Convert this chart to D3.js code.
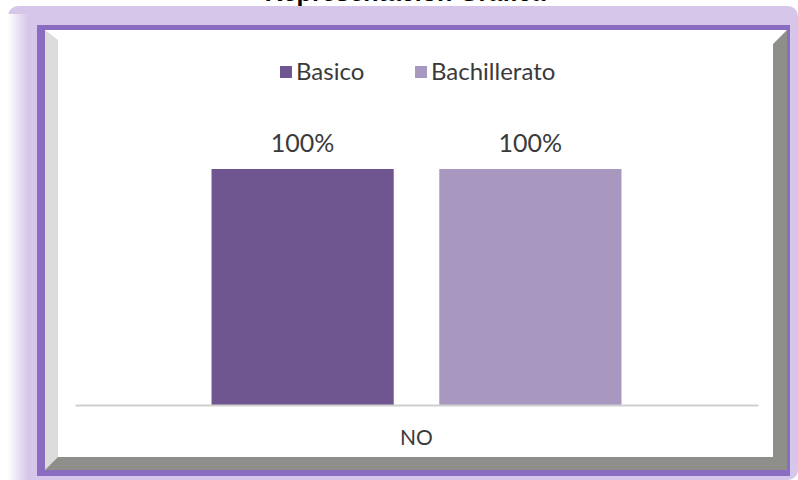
<!DOCTYPE html>
<html>
<head>
<meta charset="utf-8">
<script src="https://cdn.jsdelivr.net/npm/d3@7"></script>
<style>
  body { margin: 0; background: #fff; }
  svg { display: block; }
</style>
</head>
<body>
<div id="chart"></div>
<script>
// data
var categories = ["NO"];
var series = ["Basico", "Bachillerato"];
var basicoValues = [1.0];
var bachilleratoValues = [1.0];
var colors = ["#6f5690", "#a897bf"];
var title = "Representación Gráfica";

var width = 798, height = 480;

var svg = d3.select("#chart").append("svg")
  .attr("width", width)
  .attr("height", height);

var defs = svg.append("defs");
var fade = defs.append("linearGradient").attr("id", "fadeLeft")
  .attr("x1", "0").attr("x2", "1").attr("y1", "0").attr("y2", "0");
fade.append("stop").attr("offset", "0").attr("stop-color", "#ffffff");
fade.append("stop").attr("offset", "1").attr("stop-color", "#d6c6ea");

// outer lavender frame
svg.append("rect").attr("x", 8).attr("y", 6).attr("width", 790).attr("height", 474)
  .attr("rx", 10).attr("fill", "#d6c6ea");
svg.append("rect").attr("x", 8).attr("y", 14).attr("width", 20).attr("height", 466)
  .attr("fill", "url(#fadeLeft)");

// dark purple border
svg.append("rect").attr("x", 37).attr("y", 25).attr("width", 753).attr("height", 451)
  .attr("fill", "#8a6cc0");

// bevel: left light, right/bottom dark
svg.append("rect").attr("x", 45).attr("y", 30).attr("width", 742).attr("height", 440)
  .attr("fill", "#8e8e8a");
svg.append("path")
  .attr("d", "M45,30 L58,30 L58,457 L45,470 Z")
  .attr("fill", "#dcdcdc");
svg.append("path")
  .attr("d", "M45,30 L787,30 L773,44 L58,44 L58,40 Z")
  .attr("fill", "#ffffff");
svg.append("rect").attr("x", 58).attr("y", 30).attr("width", 715).attr("height", 427)
  .attr("fill", "#ffffff");

// title (cut off at the top, as in the picture)
svg.append("text")
  .attr("x", 405).attr("y", 1)
  .attr("text-anchor", "middle")
  .style("font-family", "'Liberation Sans', Arial, sans-serif")
  .style("font-weight", "bold")
  .style("font-size", "25px")
  .attr("fill", "#000")
  .text(title);

// scales
var x0 = d3.scaleBand().domain(categories).range([75, 758]).paddingOuter(0.333);
var x1 = d3.scaleBand().domain(series).range([0, x0.bandwidth()]).paddingInner(0.2);
var y = d3.scaleLinear().domain([0, 1]).range([405, 169]);

var rows = categories.map(function (c, i) {
  return { cat: c, values: [basicoValues[i], bachilleratoValues[i]] };
});

var font = "Lato, 'Open Sans', sans-serif";

var groups = svg.selectAll("g.cat").data(rows).enter().append("g")
  .attr("class", "cat")
  .attr("transform", function (d) { return "translate(" + x0(d.cat) + ",0)"; });

groups.selectAll("rect").data(function (d) {
  return d.values.map(function (v, i) { return { s: series[i], v: v, i: i }; });
}).enter().append("rect")
  .attr("x", function (d) { return x1(d.s); })
  .attr("y", function (d) { return y(d.v); })
  .attr("width", x1.bandwidth())
  .attr("height", function (d) { return y(0) - y(d.v); })
  .attr("fill", function (d) { return colors[d.i]; });

groups.selectAll("text.val").data(function (d) {
  return d.values.map(function (v, i) { return { s: series[i], v: v }; });
}).enter().append("text")
  .attr("class", "val")
  .attr("x", function (d) { return x1(d.s) + x1.bandwidth() / 2; })
  .attr("y", function (d) { return y(d.v) - 17; })
  .attr("text-anchor", "middle")
  .style("font-family", font)
  .style("font-size", "25px")
  .attr("fill", "#3a3a3a")
  .text(function (d) { return d3.format(".0%")(d.v); });

// x axis
var xAxis = svg.append("g").attr("transform", "translate(0,405)")
  .call(d3.axisBottom(x0).tickSize(0).tickPadding(25));
xAxis.select(".domain").attr("stroke", "#cfcfcf").attr("stroke-width", 2);
xAxis.selectAll("text")
  .style("font-family", font)
  .style("font-size", "21px")
  .attr("fill", "#3a3a3a");

// legend
var legendX = [280, 415];
var legend = svg.selectAll("g.leg").data(series).enter().append("g")
  .attr("class", "leg")
  .attr("transform", function (d, i) { return "translate(" + legendX[i] + ",72)"; });
legend.append("rect").attr("x", 0).attr("y", -6).attr("width", 12).attr("height", 12)
  .attr("fill", function (d, i) { return colors[i]; });
legend.append("text").attr("x", 16).attr("y", 8)
  .style("font-family", font)
  .style("font-size", "24px")
  .attr("fill", "#3a3a3a")
  .text(function (d) { return d; });
</script>
</body>
</html>
